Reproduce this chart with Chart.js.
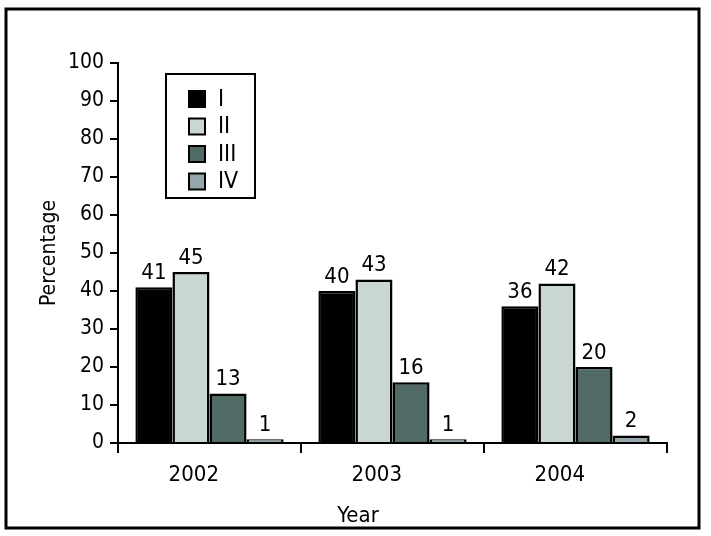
<!DOCTYPE html>
<html>
<head>
<meta charset="utf-8">
<script src="https://cdn.jsdelivr.net/npm/chart.js@4.4.1/dist/chart.umd.min.js"></script>
<style>
  html, body { margin: 0; padding: 0; background: #fff; }
  #wrap { width: 711px; height: 536px; }
</style>
</head>
<body>
<div id="wrap"><canvas id="c" width="711" height="536"></canvas></div>
<script>
const years = ['2002', '2003', '2004'];
const stageI = [41, 40, 36];
const stageII = [45, 43, 42];
const stageIII = [13, 16, 20];
const stageIV = [1, 1, 2];
const stageNames = ['I', 'II', 'III', 'IV'];
const stageColors = ['#000000', '#c9d6d4', '#526a66', '#94a6a9'];

const FONT = '"DejaVu Sans Condensed", "Liberation Sans Narrow", sans-serif';

// outer frame, value labels, x title and the boxed legend
const extras = {
    id: 'extras',
    afterDraw(chart) {
        const ctx = chart.ctx;
        ctx.save();
        ctx.strokeStyle = '#000';
        ctx.lineWidth = 3;
        ctx.strokeRect(6, 9, 693, 519);

        ctx.font = '22px ' + FONT;
        ctx.fillStyle = '#000';
        ctx.textAlign = 'center';
        ctx.textBaseline = 'bottom';
        chart.data.datasets.forEach((ds, i) => {
            chart.getDatasetMeta(i).data.forEach((bar, j) => {
                ctx.fillText(ds.data[j], bar.x, bar.y - 3);
            });
        });

        // x axis title sits left of centre in the original
        ctx.textBaseline = 'middle';
        ctx.fillText('Year', 358, 516);

        // legend
        ctx.lineWidth = 2;
        ctx.strokeRect(166, 74, 89, 124);
        ctx.textAlign = 'left';
        ctx.font = '23px ' + FONT;
        stageNames.forEach((name, i) => {
            const y = 99 + i * 27.5;
            ctx.fillStyle = stageColors[i];
            ctx.fillRect(189, y - 8, 16, 16);
            ctx.strokeRect(189, y - 8, 16, 16);
            ctx.fillStyle = '#000';
            ctx.fillText(name, 218, y + 1);
        });
        ctx.restore();
    }
};

const series = [stageI, stageII, stageIII, stageIV];

new Chart(document.getElementById('c'), {
    type: 'bar',
    data: {
        labels: years,
        datasets: series.map((d, i) => ({
            label: stageNames[i],
            data: d,
            backgroundColor: stageColors[i],
            borderColor: '#000',
            borderWidth: 2.5,
            borderSkipped: 'bottom'
        }))
    },
    options: {
        responsive: false,
        animation: false,
        devicePixelRatio: 1,
        layout: { padding: { left: 37, top: 63, right: 44, bottom: 4 } },
        datasets: { bar: { categoryPercentage: 0.81, barPercentage: 1 } },
        plugins: { legend: { display: false }, tooltip: { enabled: false } },
        scales: {
            x: {
                afterFit(s) { s.height = 89; },
                grid: { offset: true, drawOnChartArea: false, color: '#000', lineWidth: 2, tickLength: 10 },
                border: { color: '#000', width: 2 },
                // labels are set a little left of the group centre
                ticks: { color: '#000', font: { family: FONT, size: 22 }, padding: 9,
                         callback(v) { return this.getLabelForValue(v) + '     '; } }
            },
            y: {
                min: 0,
                max: 100,
                afterFit(s) { s.width = 81; },
                grid: { drawOnChartArea: false, color: '#000', lineWidth: 2, tickLength: 8 },
                border: { color: '#000', width: 2 },
                ticks: { stepSize: 10, color: '#000', font: { family: FONT, size: 21 }, padding: 6 },
                title: { display: true, text: 'Percentage', color: '#000', font: { family: FONT, size: 21 }, padding: 0 }
            }
        }
    },
    plugins: [extras]
});
</script>
</body>
</html>
